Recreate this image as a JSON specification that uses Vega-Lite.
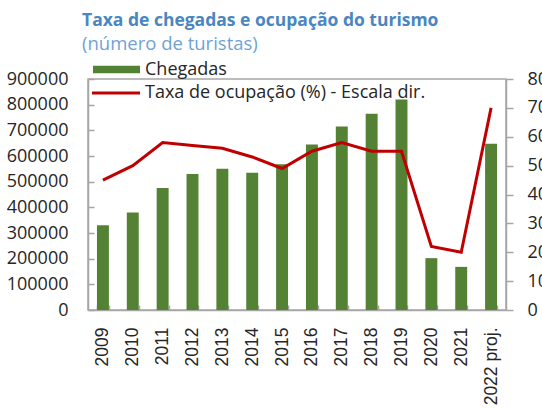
{
  "$schema": "https://vega.github.io/schema/vega-lite/v6.json",
  "width": 418,
  "height": 231,
  "autosize": {"type": "none"},
  "padding": {"left": 88, "top": 79, "right": 36, "bottom": 98},
  "background": "white",
  "title": {
    "text": "Taxa de chegadas e ocupação do turismo",
    "subtitle": "(número de turistas)",
    "anchor": "start",
    "frame": "group",
    "dx": -6,
    "font": "Open Sans",
    "fontSize": 17.5,
    "fontWeight": "bold",
    "color": "#4A86BF",
    "subtitleFont": "Open Sans",
    "subtitleFontSize": 18.5,
    "subtitleColor": "#6FA3D3",
    "subtitlePadding": 5,
    "offset": -7
  },
  "config": {
    "view": {"stroke": "#A6A6A6", "strokeWidth": 1.5},
    "axis": {
      "domainColor": "#A6A6A6",
      "domainWidth": 1.5,
      "tickColor": "#A6A6A6",
      "tickWidth": 1.5,
      "grid": false,
      "labelColor": "#262626",
      "labelFont": "Open Sans",
      "labelFontSize": 18,
      "title": null
    },
    "legend": {
      "labelFont": "Open Sans",
      "labelFontSize": 18,
      "labelColor": "#262626",
      "labelLimit": 400,
      "padding": 0,
      "title": null
    }
  },
  "data": {
    "values": [
      {"ano": "2009", "chegadas": 330000, "taxa": 45},
      {"ano": "2010", "chegadas": 380000, "taxa": 50},
      {"ano": "2011", "chegadas": 475000, "taxa": 58},
      {"ano": "2012", "chegadas": 530000, "taxa": 57},
      {"ano": "2013", "chegadas": 550000, "taxa": 56},
      {"ano": "2014", "chegadas": 535000, "taxa": 53},
      {"ano": "2015", "chegadas": 568000, "taxa": 49},
      {"ano": "2016", "chegadas": 645000, "taxa": 55},
      {"ano": "2017", "chegadas": 715000, "taxa": 58},
      {"ano": "2018", "chegadas": 765000, "taxa": 55},
      {"ano": "2019", "chegadas": 820000, "taxa": 55},
      {"ano": "2020", "chegadas": 202000, "taxa": 22},
      {"ano": "2021", "chegadas": 168000, "taxa": 20},
      {"ano": "2022 proj.", "chegadas": 648000, "taxa": 70}
    ]
  },
  "encoding": {
    "x": {
      "field": "ano",
      "type": "nominal",
      "sort": null,
      "scale": {"paddingInner": 0.6, "paddingOuter": 0.3},
      "axis": {
        "labelAngle": -90,
        "labelAlign": "right",
        "labelBaseline": "middle",
        "labelFont": "Liberation Sans",
        "labelFontSize": 17.5,
        "tickBand": "extent",
        "tickSize": -5,
        "labelPadding": 22
      }
    }
  },
  "layer": [
    {
      "mark": {"type": "bar"},
      "encoding": {
        "y": {
          "field": "chegadas",
          "type": "quantitative",
          "scale": {"domain": [0, 900000], "nice": false},
          "axis": {
            "orient": "left",
            "values": [0, 100000, 200000, 300000, 400000, 500000, 600000, 700000, 800000, 900000],
            "format": "d",
            "tickSize": -6,
            "labelPadding": 26
          }
        },
        "fill": {
          "datum": "Chegadas",
          "scale": {"range": ["#548235"]},
          "legend": {
            "orient": "none",
            "legendX": 5,
            "legendY": -33,
            "symbolType": "M-1,-0.16H1V0.16H-1Z",
            "symbolSize": 2209,
            "symbolStrokeWidth": 0,
            "labelOffset": 5
          }
        }
      }
    },
    {
      "mark": {"type": "line", "strokeWidth": 3},
      "encoding": {
        "y": {
          "field": "taxa",
          "type": "quantitative",
          "scale": {"domain": [0, 80], "nice": false},
          "axis": {
            "orient": "right",
            "values": [0, 10, 20, 30, 40, 50, 60, 70, 80],
            "tickSize": 7,
            "labelPadding": 14
          }
        },
        "stroke": {
          "datum": "Taxa de ocupação (%) - Escala dir.",
          "scale": {"range": ["#C00000"]},
          "legend": {
            "orient": "none",
            "legendX": 4,
            "legendY": -10,
            "symbolType": "M-1,-0.064H1V0.064H-1Z",
            "symbolSize": 2304,
            "symbolFillColor": "#C00000",
            "symbolStrokeWidth": 0,
            "labelOffset": 5
          }
        }
      }
    }
  ],
  "resolve": {"scale": {"y": "independent"}}
}
